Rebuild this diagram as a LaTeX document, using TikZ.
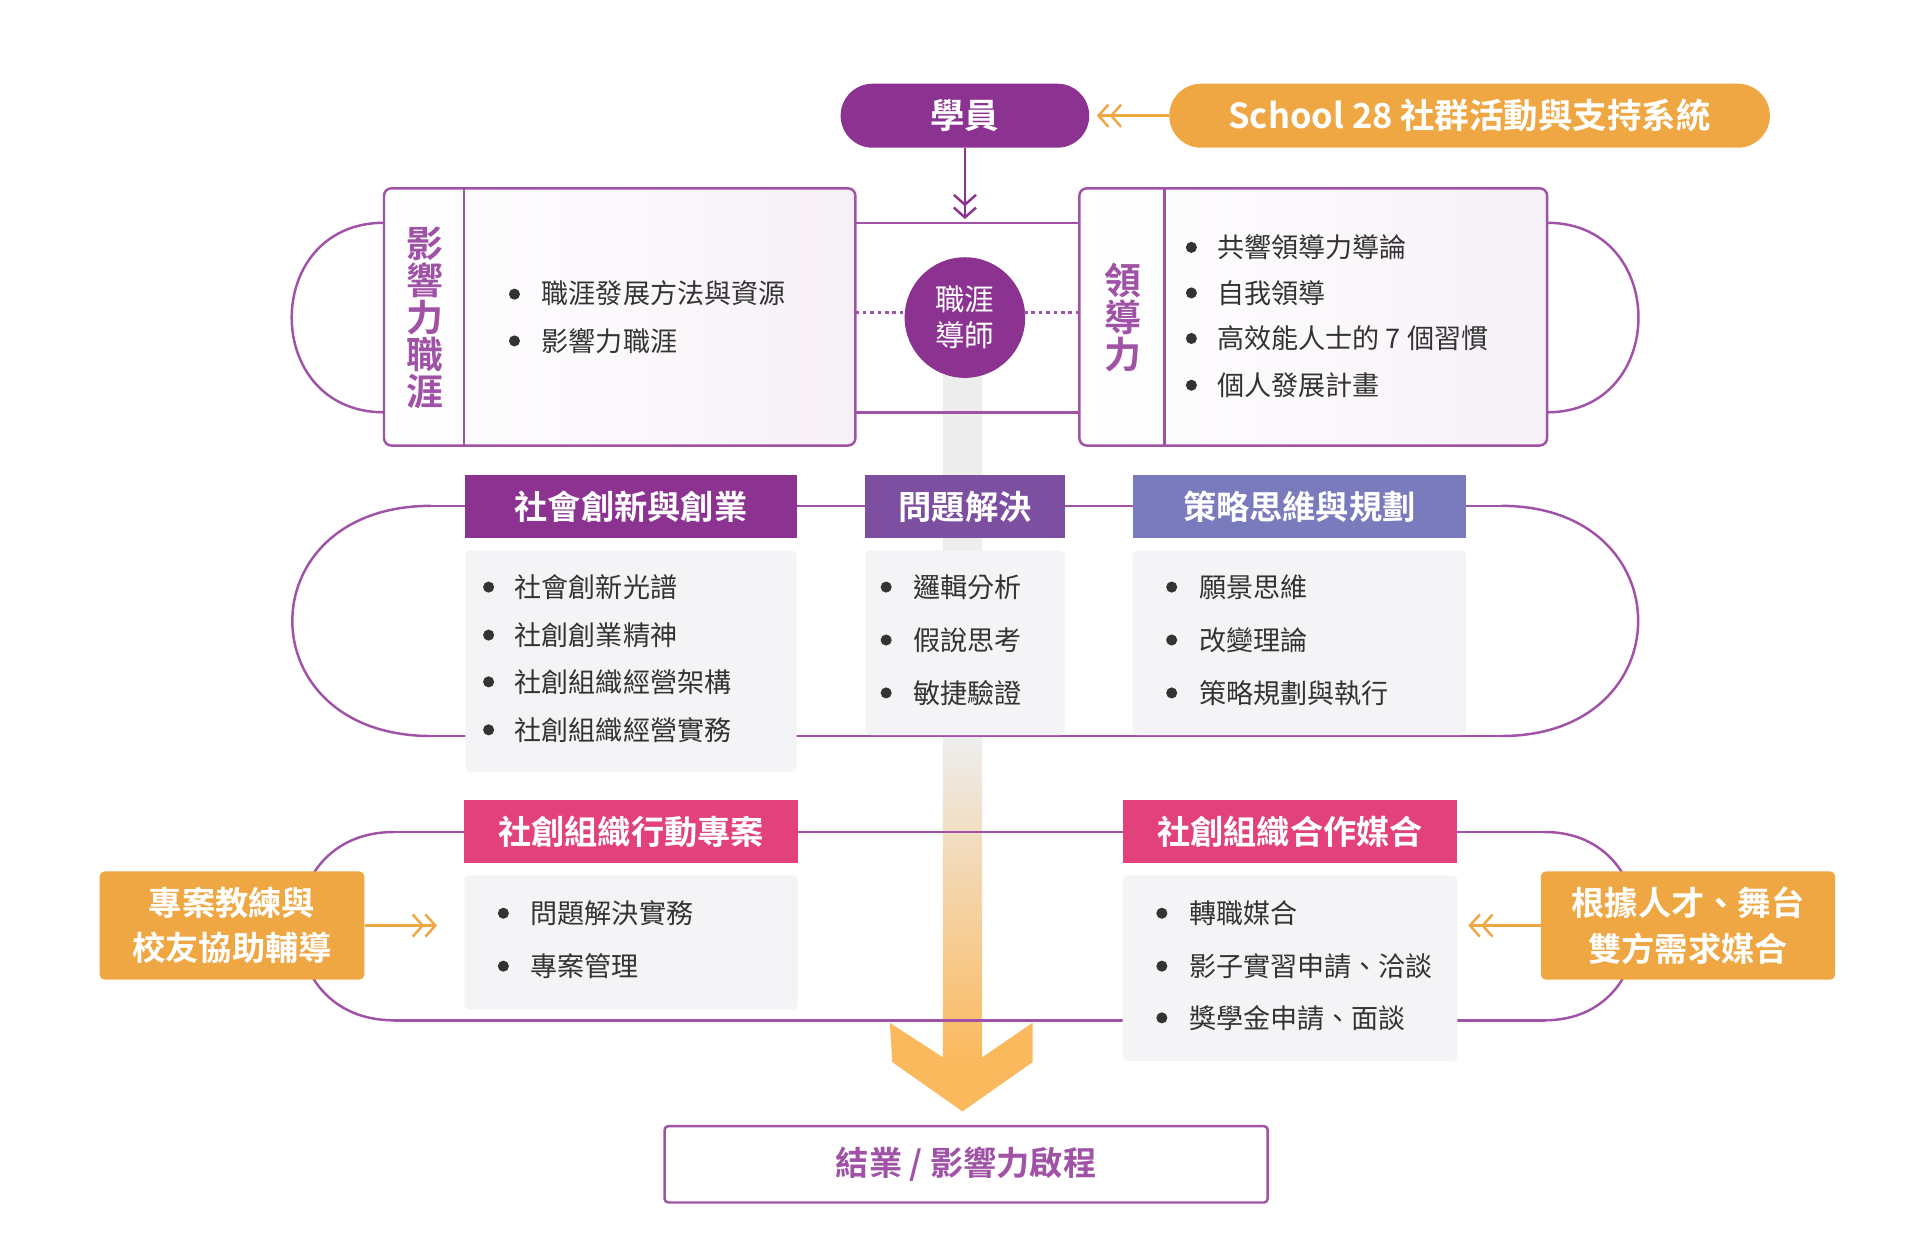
\documentclass[tikz,border=0pt]{standalone}
\usepackage{fontspec}
\setmainfont{Noto Sans CJK TC}
\newfontfamily\cjkb{Noto Sans CJK TC}[FakeBold=0,UprightFont=* Bold]
\usetikzlibrary{arrows.meta,calc}
\definecolor{pp}{HTML}{8C3392}
\definecolor{pb}{HTML}{A052A6}
\definecolor{vi}{HTML}{7D4FA0}
\definecolor{bv}{HTML}{7A7BBC}
\definecolor{pk}{HTML}{E2417B}
\definecolor{og}{HTML}{EFA743}
\definecolor{tx}{HTML}{333333}
\definecolor{pn}{HTML}{F4F4F6}
\definecolor{ar}{HTML}{FBB95E}
\begin{document}
\begin{tikzpicture}[x=1pt,y=-1pt,
  pill/.style={rounded corners=26pt,inner sep=0pt,text=white,font=\cjkb\fontsize{28}{32}\selectfont},
  hdr/.style={inner sep=0pt,text=white,font=\cjkb\fontsize{27}{32}\selectfont},
  obox/.style={fill=og,rounded corners=4pt,inner sep=0pt,text=white,align=center,font=\cjkb\fontsize{27}{37}\selectfont},
  panel/.style={fill=pn,rounded corners=4pt,inner sep=0pt},
  band/.style={draw=pb,line width=2pt},
  bl/.style={anchor=west,inner sep=0pt,text=tx,font=\fontsize{22}{26}\selectfont},
  dot/.style={circle,fill=tx,inner sep=0pt,minimum size=9pt},
  dbl/.style={-{Straight Barb[length=8pt,width=18pt,line width=2pt] Straight Barb[length=8pt,width=18pt,line width=2pt]},line width=2pt},
  vt/.style={text=pb,align=center,inner sep=0pt,font=\cjkb\fontsize{30}{32}\selectfont}]
\useasboundingbox (0,0) rectangle (1560,1015);
% central stripe
\fill[top color=white!93!black,bottom color=white!93!black] (766,300) rectangle (798,600);
\fill[top color=white!93!black,bottom color=ar] (766,600) rectangle (798,861);
\fill[ar] (723,831) -- (766,859) -- (798,859) -- (839,831) -- (839,863) -- (782,903) -- (725,863) -- cycle;
% top band
\draw[band] (695,181) -- (877,181) (695,335) -- (877,335);
\draw[band] (312,181) .. controls (212,181) and (212,335) .. (312,335);
\draw[band] (1257,181) .. controls (1356,181) and (1356,335) .. (1257,335);
% middle band
\draw[band] (350,411) -- (1220,411) (350,598) -- (1220,598);
\draw[band] (350,411) .. controls (200,411) and (200,598) .. (350,598);
\draw[band] (1220,411) .. controls (1368,411) and (1368,598) .. (1220,598);
% bottom band
\draw[band] (320,676) -- (1255,676) (320,829) -- (1255,829);
\draw[band] (320,676) .. controls (217,676) and (217,829) .. (320,829);
\draw[band] (1255,676) .. controls (1355,676) and (1355,829) .. (1255,829);
% top
\node[pill,fill=pp,minimum width=202pt,minimum height=52pt] (stu) at (784,94) {學員};
\node[pill,fill=og,minimum width=488pt,minimum height=52pt] (sch) at (1194,94) {School 28 社群活動與支持系統};
\draw[dbl,og] (sch.west) -- ($(stu.east)+(6,0)$) coordinate (stuE);
\coordinate (mid) at (784,178);
\draw[dbl,pp] (stu.south) -- (mid);
% left box
\shade[left color=white,right color=pp!7,draw=pb,line width=2pt,rounded corners=6pt] (312,153) rectangle (695,362);
\draw[pb,line width=2pt] (377,153) -- (377,362);
\node[vt] (lbl1) at (345,258) {影\\[-2pt]響\\[-2pt]力\\[-2pt]職\\[-2pt]涯};
\node[dot] (d1) at (418,239) {}; \node[bl] (t1) at (440,238) {職涯發展方法與資源};
\node[dot] (d2) at (418,277) {}; \node[bl] (t2) at (440,277) {影響力職涯};
% right box
\shade[left color=white,right color=pp!7,draw=pb,line width=2pt,rounded corners=6pt] (877,153) rectangle (1257,362);
\draw[pb,line width=2pt] (946,153) -- (946,362);
\node[vt] (lbl2) at (912,258) {領\\[-2pt]導\\[-2pt]力};
\foreach \y/\t [count=\i] in {201/共響領導力導論,238/自我領導,275/高效能人士的 7 個習慣,313/個人發展計畫}{
  \node[dot] (rd\i) at (968,\y) {}; \node[bl] (rt\i) at (989,\y) {\t};}
% mentor
\node[circle,fill=pp,minimum size=98pt,inner sep=0pt,text=white,align=center,font=\fontsize{24}{29}\selectfont] (men) at (784,258) {職涯\\導師};
\draw[pb,line width=2pt,dash pattern=on 3pt off 3pt] (695,254) -- (736,254) (832,254) -- (877,254);
% middle
\node[panel,minimum width=269pt,minimum height=180pt,anchor=north west] (p1) at (378,447) {};
\node[panel,minimum width=162pt,minimum height=150pt,anchor=north west] (p2) at (703,447) {};
\node[panel,minimum width=271pt,minimum height=150pt,anchor=north west] (p3) at (920,447) {};
\node[hdr,fill=pp,minimum width=269pt,minimum height=51pt,anchor=north west] (h1) at (378,386) {社會創新與創業};
\node[hdr,fill=vi,minimum width=162pt,minimum height=51pt,anchor=north west] (h2) at (703,386) {問題解決};
\node[hdr,fill=bv,minimum width=271pt,minimum height=51pt,anchor=north west] (h3) at (920,386) {策略思維與規劃};
\foreach \y/\t [count=\i] in {477/社會創新光譜,516/社創創業精神,554/社創組織經營架構,593/社創組織經營實務}{
  \node[dot] (ad\i) at (397,\y) {}; \node[bl] (at\i) at (418,\y) {\t};}
\foreach \y/\t [count=\i] in {477/邏輯分析,520/假說思考,563/敏捷驗證}{
  \node[dot] (bd\i) at (720,\y) {}; \node[bl] (bt\i) at (742,\y) {\t};}
\foreach \y/\t [count=\i] in {477/願景思維,520/改變理論,563/策略規劃與執行}{
  \node[dot] (cd\i) at (952,\y) {}; \node[bl] (ct\i) at (974,\y) {\t};}
% bottom
\node[panel,minimum width=271pt,minimum height=109pt,anchor=north west] (p4) at (377,711) {};
\node[panel,minimum width=272pt,minimum height=151pt,anchor=north west] (p5) at (912,711) {};
\node[hdr,fill=pk,minimum width=271pt,minimum height=51pt,anchor=north west] (h4) at (377,650) {社創組織行動專案};
\node[hdr,fill=pk,minimum width=272pt,minimum height=51pt,anchor=north west] (h5) at (912,650) {社創組織合作媒合};
\foreach \y/\t [count=\i] in {742/問題解決實務,785/專案管理}{
  \node[dot] (ed\i) at (409,\y) {}; \node[bl] (et\i) at (431,\y) {\t};}
\foreach \y/\t [count=\i] in {742/轉職媒合,785/影子實習申請、洽談,827/獎學金申請、面談}{
  \node[dot] (fd\i) at (944,\y) {}; \node[bl] (ft\i) at (966,\y) {\t};}
\node[obox,minimum width=215pt,minimum height=88pt] (o1) at (188.5,752) {專案教練與\\校友協助輔導};
\node[obox,minimum width=239pt,minimum height=88pt] (o2) at (1371.5,752) {根據人才、舞台\\雙方需求媒合};
\coordinate (o1t) at (355,752); \coordinate (o2t) at (1193,752);
\draw[dbl,og] (o1.east) -- (o1t);
\draw[dbl,og] (o2.west) -- (o2t);
% end
\node[draw=pb,line width=2pt,fill=white,rounded corners=3pt,minimum width=490pt,minimum height=62pt,text=pb,font=\cjkb\fontsize{27}{32}\selectfont] (end) at (785,946) {結業 / 影響力啟程};
\end{tikzpicture}
\end{document}
